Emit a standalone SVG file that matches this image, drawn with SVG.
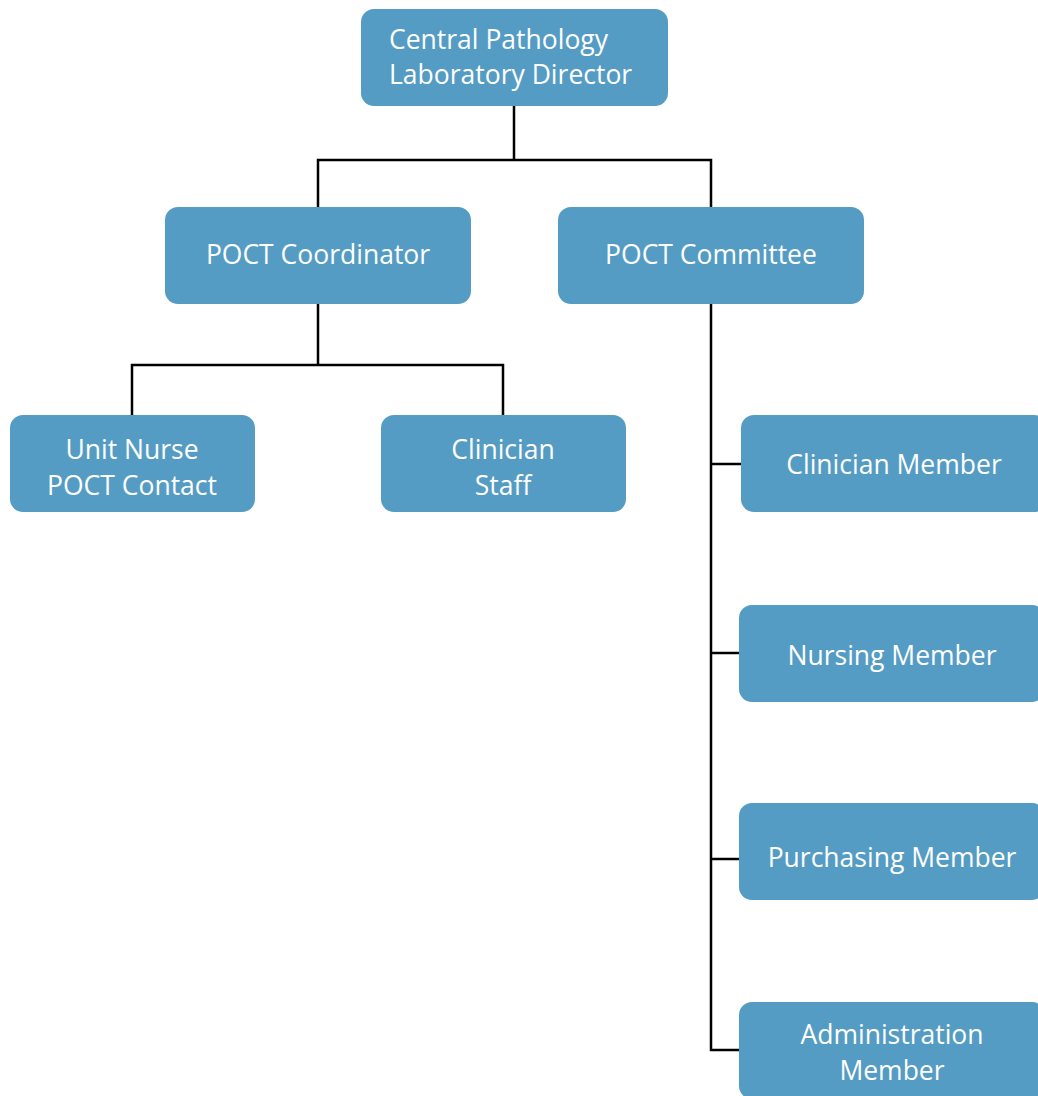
<svg xmlns="http://www.w3.org/2000/svg" width="1038" height="1096" viewBox="0 0 1038 1096">
<style>
.box{fill:#559cc4;}
.t{font-family:"Open Sans","Noto Sans",sans-serif;font-size:26.5px;fill:#ffffff;}
.c{text-anchor:middle;}
.ln{fill:none;stroke:#000000;stroke-width:2.5;}
</style>
<rect width="1038" height="1096" fill="#ffffff"/>
<g id="connectors">
<path class="ln" d="M514 106V160M318 207V160H711V207"/>
<path class="ln" d="M318 304V365M132 415V365H503V415"/>
<path class="ln" d="M711 304V1050H739M711 464H741M711 653H739M711 859H739"/>
</g>
<g id="n-director">
<rect class="box" x="361" y="9" width="307" height="97" rx="13"/>
<text class="t" x="389" y="49">Central Pathology</text>
<text class="t" x="389" y="84">Laboratory Director</text>
</g>
<g id="n-coordinator">
<rect class="box" x="165" y="207" width="306" height="97" rx="13"/>
<text class="t c" x="318" y="264">POCT Coordinator</text>
</g>
<g id="n-committee">
<rect class="box" x="558" y="207" width="306" height="97" rx="13"/>
<text class="t c" x="711" y="264">POCT Committee</text>
</g>
<g id="n-unitnurse">
<rect class="box" x="10" y="415" width="245" height="97" rx="13"/>
<text class="t c" x="132" y="459">Unit Nurse</text>
<text class="t c" x="132" y="495">POCT Contact</text>
</g>
<g id="n-clinicianstaff">
<rect class="box" x="381" y="415" width="245" height="97" rx="13"/>
<text class="t c" x="503" y="459">Clinician</text>
<text class="t c" x="503" y="495">Staff</text>
</g>
<g id="n-clinicianmember">
<rect class="box" x="741" y="415" width="306" height="97" rx="13"/>
<text class="t c" x="894" y="474">Clinician Member</text>
</g>
<g id="n-nursingmember">
<rect class="box" x="739" y="605" width="306" height="97" rx="13"/>
<text class="t c" x="892" y="665">Nursing Member</text>
</g>
<g id="n-purchasingmember">
<rect class="box" x="739" y="803" width="306" height="97" rx="13"/>
<text class="t c" x="892" y="867">Purchasing Member</text>
</g>
<g id="n-adminmember">
<rect class="box" x="739" y="1002" width="306" height="97" rx="13"/>
<text class="t c" x="892" y="1044">Administration</text>
<text class="t c" x="892" y="1080">Member</text>
</g>
</svg>
